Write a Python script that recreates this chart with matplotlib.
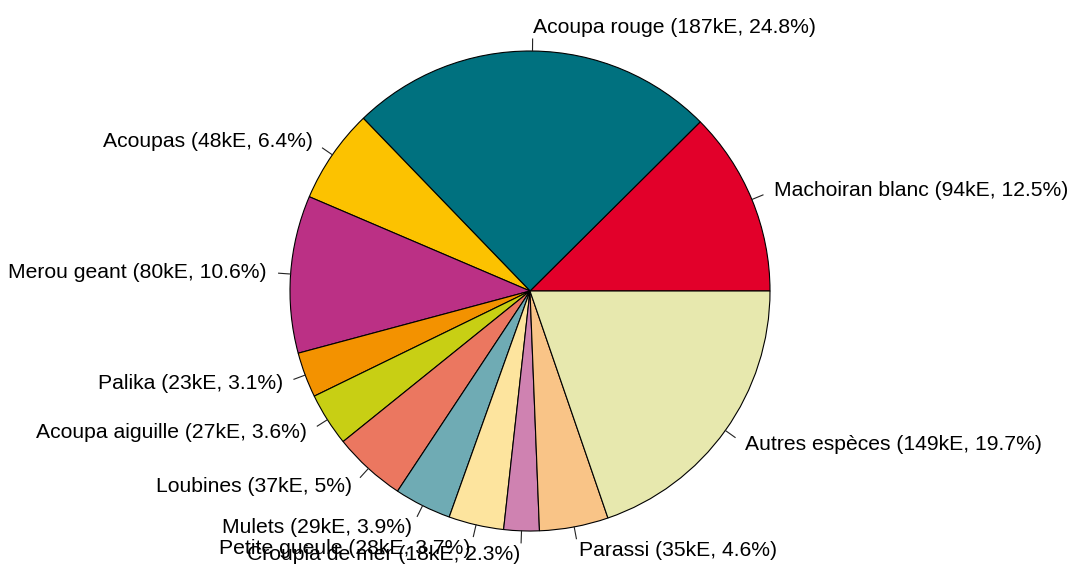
import numpy as np
import matplotlib
matplotlib.use("Agg")
import matplotlib.pyplot as plt

species = ["Machoiran blanc", "Acoupa rouge", "Acoupas", "Merou geant", "Palika",
           "Acoupa aiguille", "Loubines", "Mulets", "Petite gueule", "Croupia de mer",
           "Parassi", "Autres espèces"]
values_kE = [94, 187, 48, 80, 23, 27, 37, 29, 28, 18, 35, 149]
pct_labels = ["12.5%", "24.8%", "6.4%", "10.6%", "3.1%", "3.6%", "5%", "3.9%",
              "3.7%", "2.3%", "4.6%", "19.7%"]
colors = ["#E2002A", "#00717F", "#FCC200", "#BB3085", "#F39200", "#C8CF14",
          "#EB7760", "#6FABB4", "#FDE49E", "#CF82B1", "#F9C487", "#E7E8AE"]

W, H = 1067, 565
fig = plt.figure(figsize=(W / 100, H / 100), dpi=100)
ax = fig.add_axes([0, 0, 1, 1])
cx, cy, r = 530, H - 291, 240

wedges, _ = ax.pie(values_kE, colors=colors, startangle=0, counterclock=True,
                   center=(cx, cy), radius=r, frame=True,
                   wedgeprops=dict(edgecolor="black", linewidth=0.8))
ax.set_xlim(0, W)
ax.set_ylim(0, H)
ax.set_aspect("equal")
ax.axis("off")

for w, name, v, p in zip(wedges, species, values_kE, pct_labels):
    mid = np.deg2rad((w.theta1 + w.theta2) / 2)
    c, s = np.cos(mid), np.sin(mid)
    ax.plot([cx + r * c, cx + 1.05 * r * c], [cy + r * s, cy + 1.05 * r * s],
            color="#222222", lw=0.8)
    ax.text(cx + 1.1 * r * c, cy + 1.1 * r * s, f"{name} ({v}kE, {p})",
            ha="left" if c > 0 else "right", va="center",
            fontsize=15.2, family="Liberation Sans", color="black")

fig.savefig("out.png", dpi=100)
